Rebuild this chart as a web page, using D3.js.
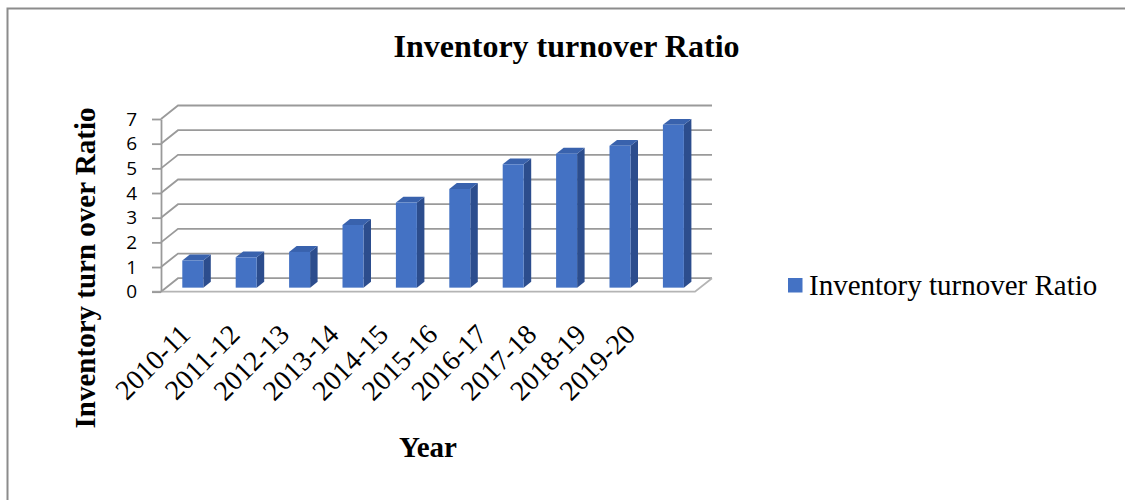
<!DOCTYPE html>
<html>
<head>
<meta charset="utf-8">
<script src="https://cdn.jsdelivr.net/npm/d3@7"></script>
<style>
  body { margin: 0; background: #fff; }
  svg { display: block; }
</style>
</head>
<body>
<script>
// Inventory turnover ratio, 3D-style column chart

const years = ["2010-11", "2011-12", "2012-13", "2013-14", "2014-15",
               "2015-16", "2016-17", "2017-18", "2018-19", "2019-20"];
const ratios = [1.1, 1.23, 1.45, 2.54, 3.45, 4.0, 5.0, 5.43, 5.75, 6.6];
const yTicks = [0, 1, 2, 3, 4, 5, 6, 7];
const seriesName = "Inventory turnover Ratio";

const W = 1125, H = 500;
const serif = "'Liberation Serif', 'Times New Roman', serif";

const svg = d3.select("body").append("svg")
  .attr("width", W)
  .attr("height", H);

svg.append("rect")
  .attr("width", W).attr("height", H)
  .attr("fill", "#fff");

// outer chart frame (only top + left show inside the picture)
svg.append("rect")
  .attr("x", 7.5).attr("y", 8.5)
  .attr("width", 1300).attr("height", 700)
  .attr("fill", "none")
  .attr("stroke", "#8c8c8c")
  .attr("stroke-width", 2);

const x = d3.scaleBand().domain(years).range([161, 695]);
const y = d3.scaleLinear().domain([0, 7]).range([291.7, 119]);
// category labels sit on their own, slightly tighter, spacing
const xl = d3.scalePoint().domain(years).range([192, 637]);

// depth of the 3D box
const dx = 17, dy = -13.5;
const gridColor = "#9a9a9a";

// back wall gridlines (diagonal on the side wall, then across the back)
const grid = svg.append("g")
  .attr("fill", "none")
  .attr("stroke", gridColor)
  .attr("stroke-width", 1.8);

grid.selectAll("path")
  .data(yTicks)
  .join("path")
    .attr("d", d => `M161,${y(d)}L${161 + dx},${y(d) + dy}L${x.range()[1] + dx},${y(d) + dy}`);

// floor: front edge and right edge
svg.append("path")
  .attr("d", `M152,${y(0)}L${x.range()[1]},${y(0)}L${x.range()[1] + dx},${y(0) + dy}`)
  .attr("fill", "none")
  .attr("stroke", "#b4b4b4")
  .attr("stroke-width", 1.8);

// value axis
const yAxis = svg.append("g")
  .attr("transform", "translate(161,0)")
  .call(d3.axisLeft(y).tickValues(yTicks).tickFormat(d3.format("d"))
    .tickSize(9).tickSizeOuter(0).tickPadding(15));

yAxis.select(".domain").attr("stroke", gridColor).attr("stroke-width", 1.8);
yAxis.selectAll(".tick line").attr("stroke", gridColor).attr("stroke-width", 1.8);
yAxis.selectAll(".tick text")
  .attr("font-family", "'Open Sans', 'Liberation Sans', sans-serif")
  .attr("font-size", 19)
  .attr("fill", "#000");

// bars
const barW = 21;
const off = { x: dx * 0.3, y: dy * 0.3 };      // bars stand a bit into the depth
const bd = { x: 7.5, y: -5.9 };                 // bar depth

const bars = svg.append("g")
  .selectAll("g")
  .data(years.map((d, i) => ({ year: d, value: ratios[i] })))
  .join("g");

const fx = d => x(d.year) + x.bandwidth() / 2 - barW / 2 + off.x;
const barTop = d => y(d.value) + off.y;
const barBot = () => y(0) + off.y;

bars.append("path")   // side
  .attr("fill", "#2c4d8d")
  .attr("d", d => {
    const x0 = fx(d) + barW;
    return `M${x0},${barTop(d)}L${x0 + bd.x},${barTop(d) + bd.y}L${x0 + bd.x},${barBot() + bd.y}L${x0},${barBot()}Z`;
  });

bars.append("path")   // top
  .attr("fill", "#3962ad")
  .attr("d", d => {
    const x0 = fx(d);
    return `M${x0},${barTop(d)}L${x0 + bd.x},${barTop(d) + bd.y}L${x0 + barW + bd.x},${barTop(d) + bd.y}L${x0 + barW},${barTop(d)}Z`;
  });

bars.append("rect")   // front
  .attr("fill", "#4472c4")
  .attr("x", fx)
  .attr("y", barTop)
  .attr("width", barW)
  .attr("height", d => barBot() - barTop(d));

// category labels
svg.append("g")
  .selectAll("text")
  .data(years)
  .join("text")
    .attr("transform", d => `translate(${xl(d)},336) rotate(-45)`)
    .attr("text-anchor", "end")
    .attr("font-family", serif)
    .attr("font-size", 28)
    .text(d => d);

// titles
svg.append("text")
  .attr("x", 566.5).attr("y", 57)
  .attr("text-anchor", "middle")
  .attr("font-family", serif)
  .attr("font-weight", "bold")
  .attr("font-size", 32)
  .text("Inventory turnover Ratio");

svg.append("text")
  .attr("transform", "translate(95,268) rotate(-90)")
  .attr("text-anchor", "middle")
  .attr("font-family", serif)
  .attr("font-weight", "bold")
  .attr("font-size", 29)
  .text("Inventory turn over Ratio");

svg.append("text")
  .attr("x", 428).attr("y", 456.5)
  .attr("text-anchor", "middle")
  .attr("font-family", serif)
  .attr("font-weight", "bold")
  .attr("font-size", 29)
  .text("Year");

// legend
const legend = svg.append("g").attr("transform", "translate(788,278)");
legend.append("rect")
  .attr("width", 14.5).attr("height", 14.5)
  .attr("fill", "#4472c4");
legend.append("text")
  .attr("x", 21).attr("y", 17)
  .attr("font-family", serif)
  .attr("font-size", 29)
  .text(seriesName);
</script>
</body>
</html>
